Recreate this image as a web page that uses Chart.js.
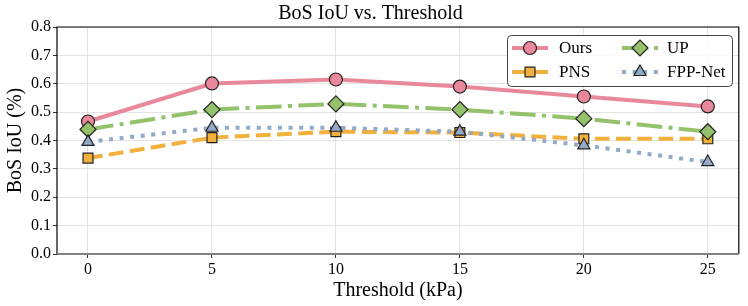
<!DOCTYPE html>
<html><head><meta charset="utf-8">
<script src="https://cdn.jsdelivr.net/npm/chart.js@4"></script>
<style>html,body{margin:0;padding:0;background:#fff}#w{width:748px;height:306px}</style>
</head><body><div id="w"><canvas id="c"></canvas></div>
<script>
const thresholds = [0, 5, 10, 15, 20, 25];
const ours   = [0.467, 0.601, 0.615, 0.590, 0.555, 0.520];
const pns    = [0.338, 0.410, 0.431, 0.428, 0.406, 0.406];
const up     = [0.439, 0.509, 0.529, 0.509, 0.477, 0.431];
const fppNet = [0.395, 0.445, 0.445, 0.431, 0.383, 0.324];
const seriesNames = ['Ours', 'PNS', 'UP', 'FPP-Net'];
const yTicks = [0, 0.1, 0.2, 0.3, 0.4, 0.5, 0.6, 0.7, 0.8];
const titleText = 'BoS IoU vs. Threshold';
const xTitle = 'Threshold (kPa)';
const yTitle = 'BoS IoU (%)';

const FONT = "'Liberation Serif','DejaVu Serif',serif";
const LW = 4;
const styles = [
  {color:'#e9889a', dash:[], marker:'circle', r:6.5},
  {color:'#f2b13d', dash:[3.7*LW,1.6*LW], marker:'rect', r:7},
  {color:'#93c26b', dash:[6.4*LW,1.6*LW,1*LW,1.6*LW], marker:'rectRot', r:8},
  {color:'#94a9c7', dash:[1*LW,1.65*LW], marker:'triangle', r:7}
];
const seriesData = [ours, pns, up, fppNet];

const datasets = seriesData.map((vals, i) => ({
  label: seriesNames[i],
  data: thresholds.map((t, k) => ({x: t, y: vals[k]})),
  borderColor: styles[i].color,
  backgroundColor: styles[i].color,
  borderWidth: LW,
  borderDash: styles[i].dash,
  borderCapStyle: 'butt',
  tension: 0,
  pointStyle: styles[i].marker,
  pointRadius: styles[i].r,
  pointBorderColor: '#222',
  pointBorderWidth: 1.2,
  pointBackgroundColor: styles[i].color,
  order: 4 - i
}));

function drawMarker(ctx, style, x, y, r, fill) {
  ctx.save();
  ctx.fillStyle = fill; ctx.strokeStyle = '#222'; ctx.lineWidth = 1.2; ctx.setLineDash([]);
  Chart.helpers.drawPoint(ctx, {pointStyle: style, radius: r, borderWidth: 1.2}, x, y);
  ctx.restore();
}

const framePlugin = {
  id: 'frame',
  afterDatasetsDraw(chart) {
    const {ctx, chartArea: a} = chart;
    ctx.save();
    ctx.setLineDash([]);
    ctx.strokeStyle = '#000'; ctx.lineWidth = 1.2;
    ctx.beginPath();
    ctx.moveTo(a.left, a.bottom); ctx.lineTo(a.left, a.top); ctx.lineTo(a.right, a.top); ctx.lineTo(a.right, a.bottom);
    ctx.stroke();
    ctx.strokeStyle = '#808080'; ctx.lineWidth = 2;
    ctx.beginPath(); ctx.moveTo(a.left, a.bottom); ctx.lineTo(a.right, a.bottom); ctx.stroke();
    // legend
    const bx = 507, by = 35, bw = 225, bh = 51;
    ctx.fillStyle = 'rgba(255,255,255,0.85)';
    ctx.strokeStyle = '#444'; ctx.lineWidth = 1;
    ctx.beginPath();
    ctx.roundRect(bx + 0.5, by + 0.5, bw, bh, 4);
    ctx.fill(); ctx.stroke();
    const cols = [{lx: 512, tx: 559}, {lx: 622, tx: 667}];
    const rows = [48, 72];
    const pos = [[0,0],[0,1],[1,0],[1,1]];
    for (let i = 0; i < 4; i++) {
      const c = cols[pos[i][0]], y = rows[pos[i][1]];
      const st = styles[i];
      ctx.save();
      ctx.strokeStyle = st.color; ctx.lineWidth = LW; ctx.lineCap = 'butt';
      ctx.setLineDash(st.dash);
      ctx.beginPath(); ctx.moveTo(c.lx, y); ctx.lineTo(c.lx + 36, y); ctx.stroke();
      ctx.restore();
      drawMarker(ctx, st.marker, c.lx + 18, y, st.r, st.color);
      ctx.fillStyle = '#000';
      ctx.font = '17px ' + FONT;
      ctx.textBaseline = 'middle'; ctx.textAlign = 'left';
      ctx.fillText(seriesNames[i], c.tx, y + 1);
    }
    ctx.restore();
  }
};

new Chart(document.getElementById('c'), {
  type: 'line',
  data: {datasets},
  plugins: [framePlugin],
  options: {
    responsive: true, maintainAspectRatio: false, animation: false,
    layout: {padding: {left: 0, right: 7, top: 0, bottom: 0}},
    plugins: {
      legend: {display: false},
      tooltip: {enabled: false},
      title: {display: true, text: titleText, color: '#000',
        font: {family: FONT, size: 20, weight: 'normal', lineHeight: 1.2}, padding: {top: 2, bottom: 1}}
    },
    scales: {
      x: {
        type: 'linear', min: -1.25, max: 26.25,
        afterFit(s) { s.height = 52; },
        afterBuildTicks(s) { s.ticks = thresholds.map(v => ({value: v})); },
        border: {display: false},
        grid: {color: '#dcdcdc', lineWidth: 0.8, borderDash: [3, 2], tickLength: 4, tickColor: '#333', tickBorderDash: [], tickWidth: 1},
        ticks: {color: '#000', font: {family: FONT, size: 16}, padding: 2, maxRotation: 0, callback: v => String(v)},
        title: {display: true, text: xTitle, color: '#000', font: {family: FONT, size: 20}, padding: {top: 0, bottom: 3}}
      },
      y: {
        min: 0, max: 0.8,
        afterFit(s) { s.width = 57; },
        afterBuildTicks(s) { s.ticks = yTicks.map(v => ({value: v})); },
        border: {display: false},
        grid: {color: '#dcdcdc', lineWidth: 0.8, borderDash: [3, 2], tickLength: 4, tickColor: '#333', tickBorderDash: [], tickWidth: 1},
        ticks: {color: '#000', font: {family: FONT, size: 16}, padding: 2, callback: v => Number(v).toFixed(1)},
        title: {display: true, text: yTitle, color: '#000', font: {family: FONT, size: 20}, padding: {top: 4, bottom: 0}}
      }
    }
  }
});
</script></body></html>
